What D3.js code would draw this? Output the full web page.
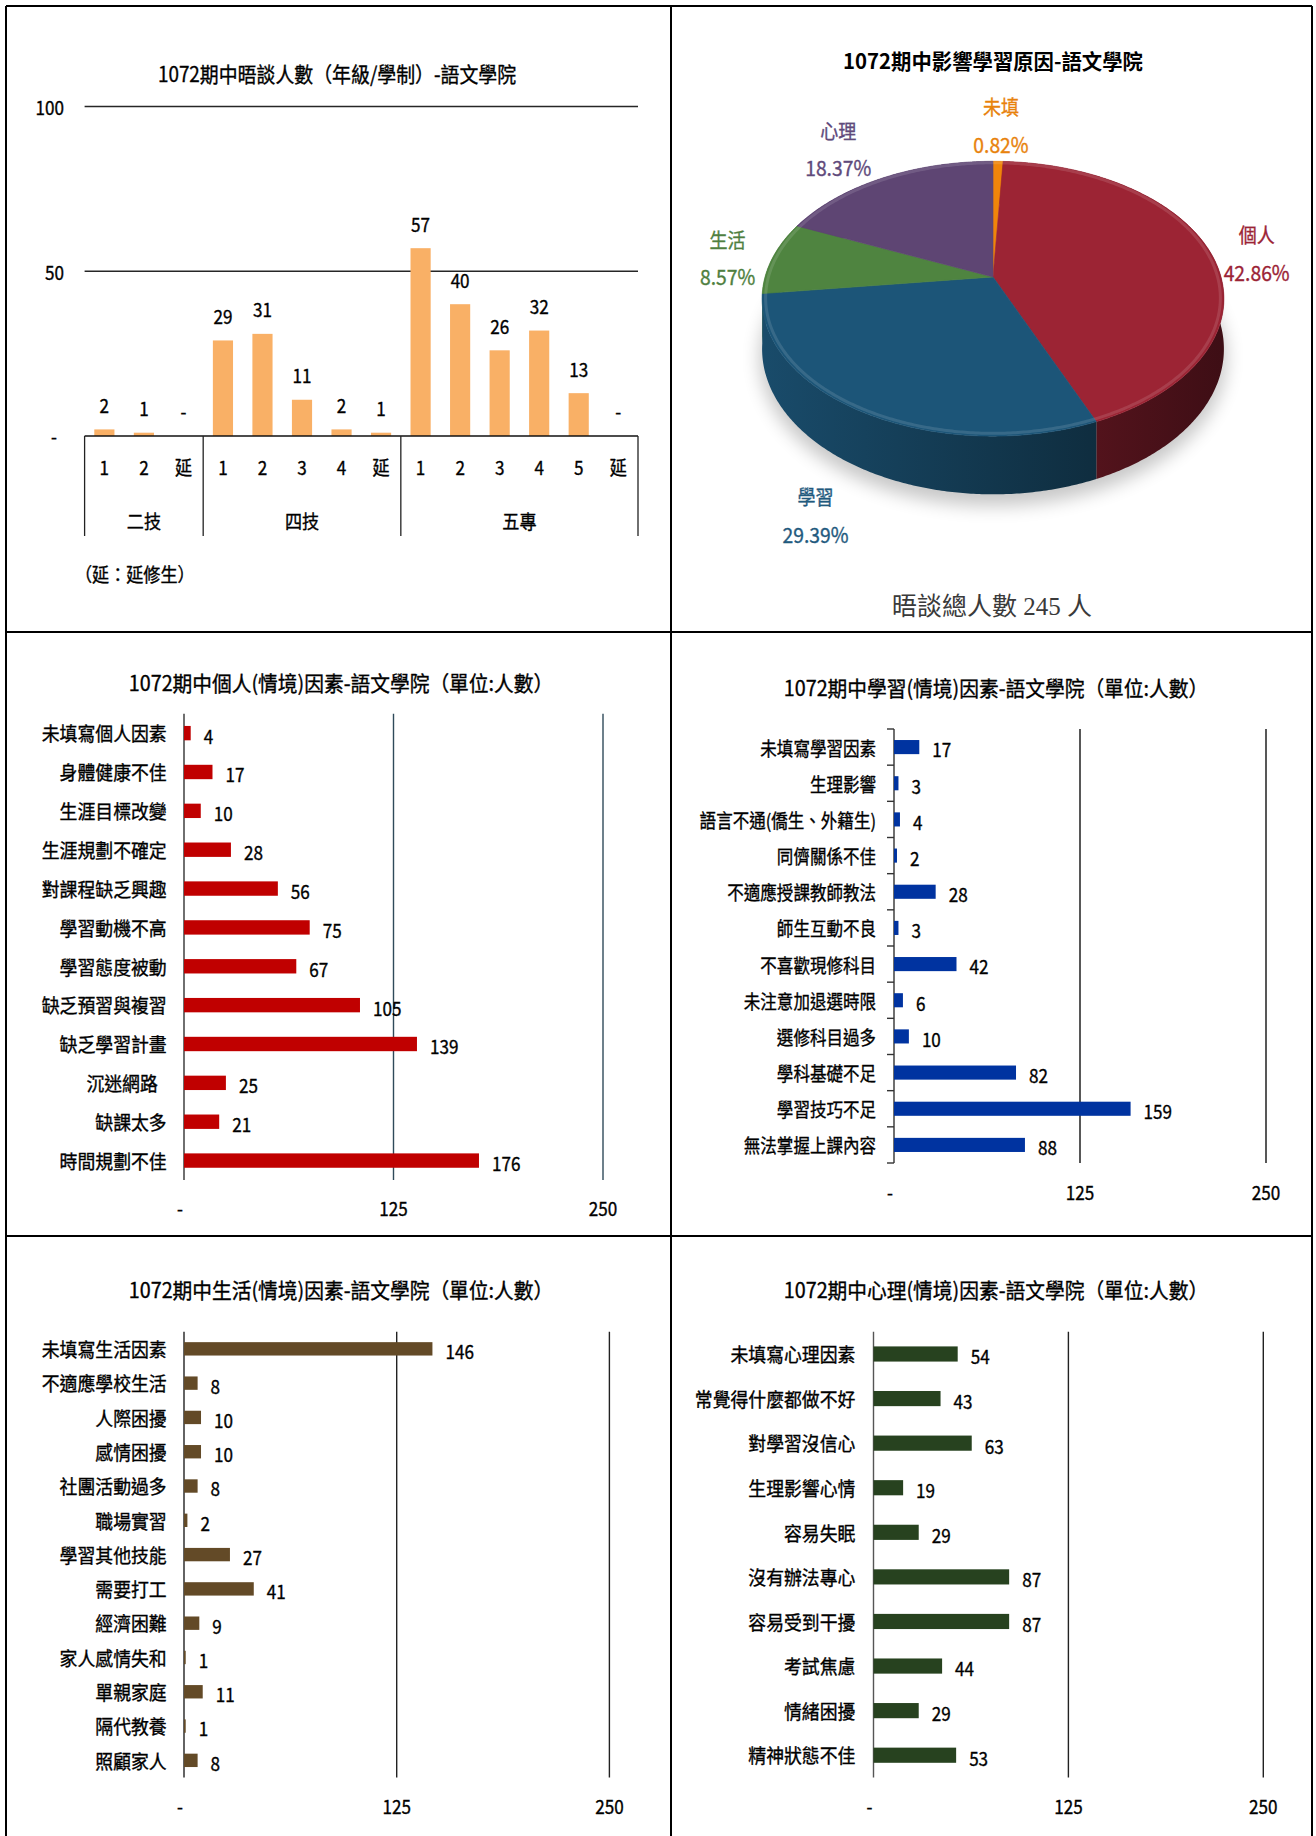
<!DOCTYPE html>
<html>
<head>
<meta charset="utf-8">
<script src="https://cdn.jsdelivr.net/npm/d3@7"></script>
<style>
  html, body { margin: 0; padding: 0; background: #fff; }
  svg { display: block; font-family: "Noto Sans CJK TC", "Noto Sans", sans-serif; }
</style>
</head>
<body>
<svg id="chart" width="1316" height="1836"></svg>
<script>
// ---- data ----
const gradeCats = ['1', '2', '延', '1', '2', '3', '4', '延', '1', '2', '3', '4', '5', '延'];
const gradeGroups = ['二技', '四技', '五專'];
const gradeGroupSizes = [3, 5, 6];
const gradeValues = [2, 1, 0, 29, 31, 11, 2, 1, 57, 40, 26, 32, 13, 0];
const gradeTicks = [0, 50, 100];

const reasonNames = ['未填', '個人', '學習', '生活', '心理'];
const reasonCounts = [2, 105, 72, 21, 45];

const personalCats = ['未填寫個人因素', '身體健康不佳', '生涯目標改變', '生涯規劃不確定', '對課程缺乏興趣', '學習動機不高',
  '學習態度被動', '缺乏預習與複習', '缺乏學習計畫', '沉迷網路\u2002', '缺課太多', '時間規劃不佳'];
const personalValues = [4, 17, 10, 28, 56, 75, 67, 105, 139, 25, 21, 176];

const studyCats = ['未填寫學習因素', '生理影響', '語言不通(僑生、外籍生)', '同儕關係不佳', '不適應授課教師教法', '師生互動不良',
  '不喜歡現修科目', '未注意加退選時限', '選修科目過多', '學科基礎不足', '學習技巧不足', '無法掌握上課內容'];
const studyValues = [17, 3, 4, 2, 28, 3, 42, 6, 10, 82, 159, 88];

const lifeCats = ['未填寫生活因素', '不適應學校生活', '人際困擾', '感情困擾', '社團活動過多', '職場實習', '學習其他技能',
  '需要打工', '經濟困難', '家人感情失和', '單親家庭', '隔代教養', '照顧家人'];
const lifeValues = [146, 8, 10, 10, 8, 2, 27, 41, 9, 1, 11, 1, 8];

const mindCats = ['未填寫心理因素', '常覺得什麼都做不好', '對學習沒信心', '生理影響心情', '容易失眠', '沒有辦法專心',
  '容易受到干擾', '考試焦慮', '情緒困擾', '精神狀態不佳'];
const mindValues = [54, 43, 63, 19, 29, 87, 87, 44, 29, 53];

const factorTicks = [0, 125, 250];

const svg = d3.select('#chart');

// text helper: condensed, slightly heavier look like the original
function label(g, x, y, str, o = {}) {
  const col = o.color || '#000';
  return g.append('text')
    .attr('transform', `translate(${x},${y}) scale(${o.sx ?? 0.9},1)`)
    .attr('text-anchor', o.anchor || 'middle')
    .attr('dominant-baseline', 'central')
    .attr('font-size', o.size || 20)
    .attr('font-weight', o.weight || 400)
    .attr('font-family', o.family || null)
    .attr('fill', col)
    .attr('stroke', o.stroke === 0 ? null : col)
    .attr('stroke-width', o.stroke ?? 0.35)
    .text(str);
}

// ---- panel 1: grade / system column chart ----
const p1 = svg.append('g');
label(p1, 337, 73, '1072期中晤談人數（年級/學制）-語文學院', { size: 21 });

const bx = d3.scaleBand().domain(d3.range(gradeValues.length)).range([84.6, 638])
  .paddingInner(0.49).paddingOuter(0.245);
const by = d3.scaleLinear().domain([0, 100]).range([436, 106.5]);
const gap = () => (bx.step() - bx.bandwidth()) / 2;
const edge = i => i < gradeValues.length ? bx(i) - gap() : bx(i - 1) + bx.bandwidth() + gap();

p1.selectAll('line.grid').data(gradeTicks.filter(d => d > 0)).join('line')
  .attr('x1', bx.range()[0]).attr('x2', bx.range()[1])
  .attr('y1', d => by(d)).attr('y2', d => by(d))
  .attr('stroke', '#262626').attr('stroke-width', 1.6);
gradeTicks.forEach(t => label(p1, t ? 64 : 57, by(t), t || '-', { anchor: 'end', size: 19 }));

p1.selectAll('rect.bar').data(gradeValues).join('rect')
  .attr('x', (d, i) => bx(i)).attr('y', d => by(d))
  .attr('width', bx.bandwidth()).attr('height', d => by(0) - by(d))
  .attr('fill', '#F9B066');
gradeValues.forEach((v, i) => label(p1, bx(i) + bx.bandwidth() / 2, by(v) - 25, v || '-', { size: 19 }));

p1.append('line').attr('x1', bx.range()[0]).attr('x2', bx.range()[1])
  .attr('y1', by(0)).attr('y2', by(0)).attr('stroke', '#111').attr('stroke-width', 1.5);
gradeCats.forEach((c, i) => label(p1, bx(i) + bx.bandwidth() / 2, 467, c, { size: 19 }));

let start = 0;
const bounds = [0];
gradeGroupSizes.forEach((n, gi) => {
  const a = edge(start), b = edge(start + n);
  label(p1, (a + b) / 2, 521, gradeGroups[gi], { size: 19 });
  start += n;
  bounds.push(start);
});
p1.selectAll('line.div').data(bounds).join('line')
  .attr('x1', d => edge(d)).attr('x2', d => edge(d))
  .attr('y1', by(0)).attr('y2', 536)
  .attr('stroke', '#222').attr('stroke-width', 1.3);
label(p1, 75, 574, '（延：延修生）', { anchor: 'start', size: 19 });

// ---- panel 2: 3D pie ----
const p2 = svg.append('g');
label(p2, 993, 60, '1072期中影響學習原因-語文學院', { size: 21, weight: 700, sx: 0.97, stroke: 0 });

const topColors = ['#F0850A', '#9C2434', '#1C5578', '#4F8440', '#5E4573'];
const textColors = ['#E8820C', '#9B2335', '#1F5A7E', '#4F7F3F', '#604A7B'];
const PC = { cx: 993, cy: 277, R: 228, ry: 134, p: 0.158, D: 49 };
const total = d3.sum(reasonCounts);
const arcs = d3.pie().sort(null).value(d => d)(reasonCounts);

function proj(a, r, h) {
  const u = Math.sin(a) * r, v = -Math.cos(a) * r;
  const s = 1 / (1 - PC.p * v);
  return [PC.cx + PC.R * u * s, PC.cy + (PC.ry * v + h) * s];
}
function arcPts(a0, a1, r, h) {
  const n = Math.max(2, Math.ceil((a1 - a0) / 0.01));
  return d3.range(n + 1).map(k => proj(a0 + (a1 - a0) * k / n, r, h));
}
const line = d3.line();

const defs = svg.append('defs');
const blur = defs.append('filter').attr('id', 'shadow').attr('x', '-20%').attr('y', '-20%')
  .attr('width', '140%').attr('height', '140%');
blur.append('feGaussianBlur').attr('stdDeviation', 9);

// soft shadow under the pie
p2.append('path')
  .attr('d', line(arcPts(0, 2 * Math.PI, 1.01, PC.D + 8)) + 'Z')
  .attr('fill', '#000').attr('opacity', 0.22).attr('filter', 'url(#shadow)');

arcs.forEach((d, i) => {
  const gr = defs.append('linearGradient').attr('id', 'side' + i)
    .attr('gradientUnits', 'userSpaceOnUse')
    .attr('x1', PC.cx - PC.R).attr('x2', PC.cx + PC.R).attr('y1', 0).attr('y2', 0);
  gr.append('stop').attr('offset', 0).attr('stop-color', d3.color(topColors[i]).darker(0.35));
  gr.append('stop').attr('offset', 1).attr('stop-color', d3.color(topColors[i]).darker(2.6));
});

// outer walls, far ones first
const order = arcs.map((d, i) => i)
  .sort((a, b) => -Math.cos((arcs[a].startAngle + arcs[a].endAngle) / 2) + Math.cos((arcs[b].startAngle + arcs[b].endAngle) / 2));
order.forEach(i => {
  const d = arcs[i];
  const topPts = arcPts(d.startAngle, d.endAngle, 1, 0);
  const botPts = arcPts(d.startAngle, d.endAngle, 1, PC.D).reverse();
  p2.append('path').attr('d', line(topPts.concat(botPts)) + 'Z')
    .attr('fill', `url(#side${i})`);
});

// top faces
arcs.forEach((d, i) => {
  const pts = [proj(0, 0, 0)].concat(arcPts(d.startAngle, d.endAngle, 1, 0));
  p2.append('path').attr('d', line(pts) + 'Z')
    .attr('fill', topColors[i])
    .attr('stroke', topColors[i]).attr('stroke-width', 0.6);
});
// rim highlight
p2.append('path').attr('d', line(arcPts(0, 2 * Math.PI, 0.985, 0)) + 'Z')
  .attr('fill', 'none').attr('stroke', '#fff').attr('stroke-opacity', 0.12).attr('stroke-width', 3);

// slice labels, placed just outside the rim
arcs.forEach((d, i) => {
  const a = (d.startAngle + d.endAngle) / 2;
  const u = Math.sin(a), v = -Math.cos(a);
  const [ax, ay] = proj(a, 1, v > 0.5 ? PC.D : 0);
  const lx = ax + Math.sign(u) * Math.min(1, Math.abs(u) * 2.5) * 45;
  const ly = ay + 6 + Math.max(0, v) * 48 + Math.min(0, v) * 42;
  label(p2, lx, ly - 19, reasonNames[i], { size: 20, color: textColors[i] });
  label(p2, lx, ly + 19, (reasonCounts[i] / total * 100).toFixed(2) + '%', { size: 21, sx: 0.92, color: textColors[i] });
});
label(p2, 992, 606, `晤談總人數 ${total} 人`,
  { size: 25, sx: 1, color: '#3a3a3a', stroke: 0, family: '"Liberation Serif", "Noto Sans CJK TC", serif' });

// ---- horizontal bar panels ----
function hbar(cfg) {
  const g = svg.append('g');
  label(g, cfg.titleX, cfg.titleY, cfg.title, { size: 21, sx: 0.94 });
  const x = d3.scaleLinear().domain([0, 250]).range(cfg.xr);
  const y = d3.scaleBand().domain(cfg.cats).range(cfg.yr)
    .paddingInner(cfg.pad).paddingOuter(cfg.pad / 2);

  g.selectAll('line.grid').data(factorTicks).join('line')
    .attr('x1', d => x(d)).attr('x2', d => x(d))
    .attr('y1', cfg.yr[0]).attr('y2', cfg.yr[1])
    .attr('stroke', d => d ? cfg.grid : cfg.axis).attr('stroke-width', 1.4);

  if (cfg.ticks) {
    g.selectAll('line.tick').data(d3.range(cfg.cats.length + 1)).join('line')
      .attr('x1', x(0) - 7).attr('x2', x(0))
      .attr('y1', k => cfg.yr[0] + k * y.step()).attr('y2', k => cfg.yr[0] + k * y.step())
      .attr('stroke', cfg.axis).attr('stroke-width', 1.4);
  }

  factorTicks.forEach(t => label(g, t ? x(t) : x(0) - 1, cfg.tickY, t || '-', { size: 19, anchor: t ? 'middle' : 'end' }));

  g.selectAll('rect.bar').data(cfg.values).join('rect')
    .attr('x', x(0)).attr('y', (d, i) => y(cfg.cats[i]))
    .attr('width', d => x(d) - x(0)).attr('height', y.bandwidth())
    .attr('fill', cfg.color);

  cfg.values.forEach((v, i) => {
    const cy = y(cfg.cats[i]) + y.bandwidth() / 2;
    label(g, x(v) + 13, cy + 2, v, { anchor: 'start', size: 19 });
    label(g, cfg.labelX, cy, cfg.cats[i], { anchor: 'end', size: 19, sx: cfg.catSx || 0.94 });
  });
}

hbar({
  title: '1072期中個人(情境)因素-語文學院（單位:人數）', titleX: 341, titleY: 682,
  cats: personalCats, values: personalValues, color: '#C00000',
  xr: [184, 603], yr: [713.7, 1180], pad: 0.63, tickY: 1208, labelX: 166.7,
  grid: '#2F4A5A', axis: '#333'
});
hbar({
  title: '1072期中學習(情境)因素-語文學院（單位:人數）', titleX: 996, titleY: 687,
  cats: studyCats, values: studyValues, color: '#0033A0',
  xr: [894, 1266], yr: [729, 1163], pad: 0.61, tickY: 1192, labelX: 876, catSx: 0.87,
  grid: '#111', axis: '#333', ticks: true
});
hbar({
  title: '1072期中生活(情境)因素-語文學院（單位:人數）', titleX: 341, titleY: 1289,
  cats: lifeCats, values: lifeValues, color: '#634A27',
  xr: [184, 609.4], yr: [1331.7, 1777.5], pad: 0.61, tickY: 1806, labelX: 166.7,
  grid: '#222', axis: '#222'
});
hbar({
  title: '1072期中心理(情境)因素-語文學院（單位:人數）', titleX: 996, titleY: 1289,
  cats: mindCats, values: mindValues, color: '#27421F',
  xr: [873.5, 1263.3], yr: [1331.7, 1777.5], pad: 0.66, tickY: 1806, labelX: 855.4,
  grid: '#222', axis: '#555'
});

// ---- frame ----
const frame = svg.append('g').attr('stroke', '#000').attr('stroke-width', 2);
[[6, 6, 1312, 6], [6, 632, 1312, 632], [6, 1236, 1312, 1236],
 [6, 6, 6, 1836], [671, 6, 671, 1836], [1312, 6, 1312, 1836]].forEach(([x1, y1, x2, y2]) =>
  frame.append('line').attr('x1', x1).attr('y1', y1).attr('x2', x2).attr('y2', y2));
</script>
</body>
</html>
